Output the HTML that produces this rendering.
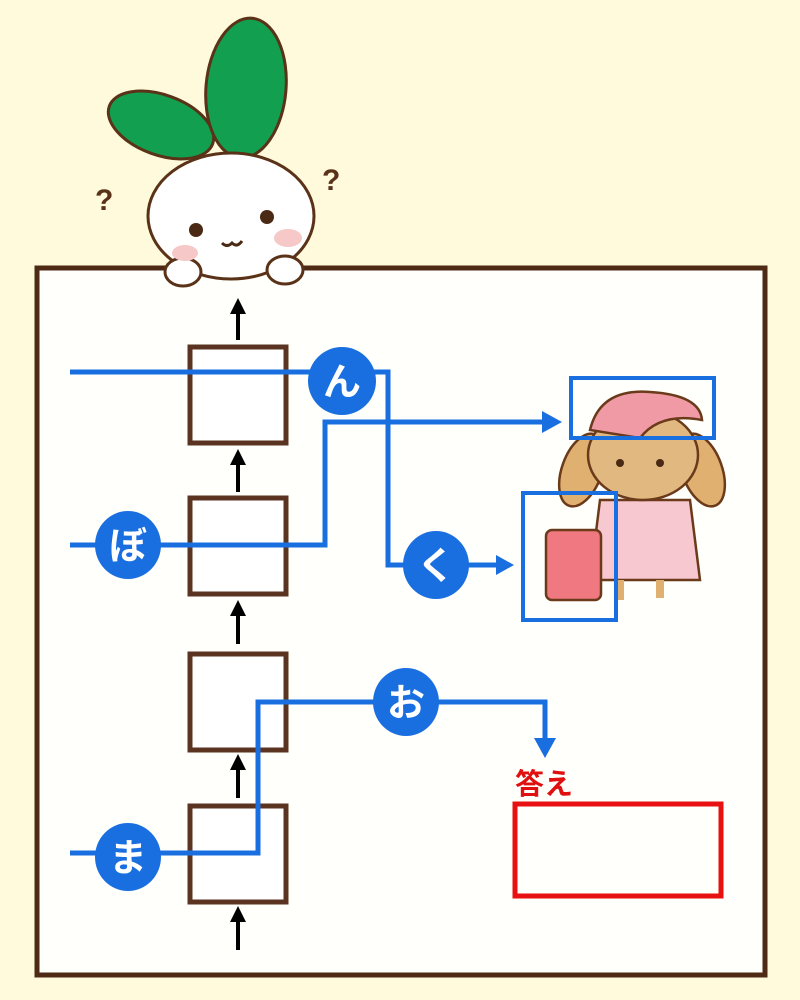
<!DOCTYPE html>
<html><head><meta charset="utf-8"><style>
html,body{margin:0;padding:0;background:#fefadb;}
svg{display:block}
text{font-family:"Liberation Sans","Noto Sans CJK JP",sans-serif;font-weight:bold}
</style></head><body>
<svg width="800" height="1000" viewBox="0 0 800 1000" xmlns="http://www.w3.org/2000/svg">
<rect x="0" y="0" width="800" height="1000" fill="#fefadb"/>
<rect x="37" y="268" width="728" height="707" fill="#fffffb" stroke="#4e2a14" stroke-width="5"/>

<!-- radish character -->
<g stroke="#5a3218" stroke-width="3">
 <ellipse cx="161" cy="125" rx="55" ry="30" transform="rotate(20 161 125)" fill="#12a050"/>
 <ellipse cx="246" cy="88" rx="40" ry="70" transform="rotate(5 246 88)" fill="#12a050"/>
 <ellipse cx="231" cy="216" rx="83" ry="63" fill="#fff"/>
 <ellipse cx="183" cy="272" rx="18" ry="14" fill="#fff"/>
 <ellipse cx="285" cy="270" rx="18" ry="14" fill="#fff"/>
</g>
<ellipse cx="185" cy="253" rx="13" ry="8" fill="#f6c8c8"/>
<ellipse cx="288" cy="238" rx="14" ry="9" fill="#f6c8c8"/>
<circle cx="196" cy="230" r="7" fill="#4a2a14"/>
<circle cx="267" cy="217" r="7" fill="#4a2a14"/>
<path d="M222 243 q5 5 10 0 q5 5 10 -2" fill="none" stroke="#4a2a14" stroke-width="3"/>
<text x="95" y="210" font-size="30" fill="#5a3218">?</text>
<text x="322" y="190" font-size="30" fill="#5a3218">?</text>

<!-- boxes -->
<g fill="#fff" stroke="#5a3420" stroke-width="5">
 <rect x="190" y="347" width="96" height="96"/>
 <rect x="190" y="498" width="96" height="96"/>
 <rect x="190" y="654" width="96" height="96"/>
 <rect x="190" y="806" width="96" height="96"/>
</g>
<!-- black arrows -->
<g stroke="#000" stroke-width="4" fill="#000">
 <line x1="238" y1="950" x2="238" y2="918"/><path d="M230 922 L238 906 L246 922Z" stroke="none"/>
 <line x1="238" y1="798" x2="238" y2="766"/><path d="M230 770 L238 754 L246 770Z" stroke="none"/>
 <line x1="238" y1="644" x2="238" y2="612"/><path d="M230 616 L238 600 L246 616Z" stroke="none"/>
 <line x1="238" y1="492" x2="238" y2="461"/><path d="M230 465 L238 449 L246 465Z" stroke="none"/>
 <line x1="238" y1="340" x2="238" y2="310"/><path d="M230 314 L238 298 L246 314Z" stroke="none"/>
</g>

<!-- girl character -->
<g stroke="#6a3a1a" stroke-width="2.5">
 <ellipse cx="582" cy="470" rx="20" ry="38" fill="#e0b070" transform="rotate(20 582 470)"/>
 <ellipse cx="702" cy="470" rx="20" ry="38" fill="#e0b070" transform="rotate(-20 702 470)"/>
 <path d="M600 500 L690 500 L700 580 L590 580Z" fill="#f8c8d0"/>
 <ellipse cx="643" cy="455" rx="55" ry="45" fill="#e0b880"/>
 <path d="M590 430 Q600 388 650 392 Q700 395 702 420 Q660 412 640 438 Z" fill="#f09aa5"/>
 <rect x="546" y="530" width="55" height="70" rx="6" fill="#f07880"/>
 <path d="M620 580 L620 600 M660 580 L660 598" stroke-width="8" stroke="#e0b070"/>
</g>
<circle cx="620" cy="463" r="4" fill="#4a2a14"/><circle cx="660" cy="463" r="4" fill="#4a2a14"/>

<!-- blue routes -->
<g stroke="#1a6fe0" stroke-width="5" fill="none">
 <polyline points="70,372 388,372 388,565 500,565"/>
 <polyline points="70,545 325,545 325,422 545,422"/>
 <polyline points="70,853 258,853 258,702 545,702 545,740"/>
 <rect x="571" y="378" width="143" height="60" stroke-width="4"/>
 <rect x="523" y="493" width="93" height="127" stroke-width="4"/>
</g>
<g fill="#1a6fe0">
 <path d="M496 555 L514 565 L496 575Z"/>
 <path d="M542 411 L562 422 L542 433Z"/>
 <path d="M534 738 L545 758 L556 738Z"/>
 <ellipse cx="342" cy="381" rx="34" ry="34"/>
 <ellipse cx="436" cy="565" rx="33" ry="34"/>
 <ellipse cx="128" cy="545" rx="33" ry="34"/>
 <ellipse cx="406" cy="702" rx="33" ry="34"/>
 <ellipse cx="128" cy="857" rx="33" ry="34"/>
</g>
<g fill="#fff" font-size="38" text-anchor="middle">
 <text x="342" y="395">ん</text>
 <text x="436" y="579">く</text>
 <text x="128" y="559">ぼ</text>
 <text x="406" y="716">お</text>
 <text x="128" y="871">ま</text>
</g>

<text x="515" y="794" font-size="29" fill="#e01010">答え</text>
<rect x="515" y="804" width="206" height="92" fill="none" stroke="#e81010" stroke-width="5"/>
</svg>
</body></html>
